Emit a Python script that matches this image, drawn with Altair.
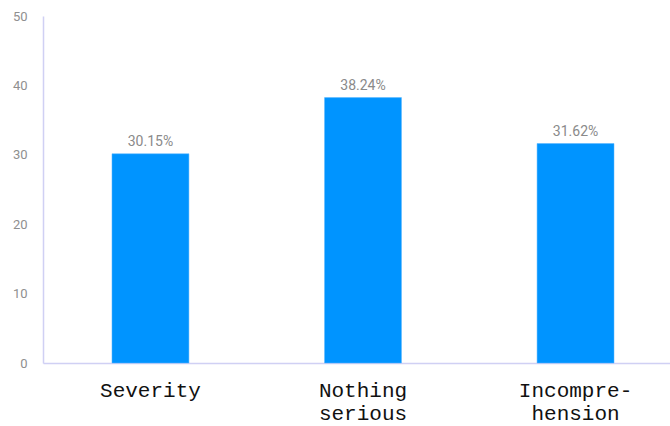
import altair as alt
import pandas as pd

categories = ["Severity", "Nothing serious", "Incomprehension"]
values = [30.15, 38.24, 31.62]
value_labels = ["30.15%", "38.24%", "31.62%"]

df = pd.DataFrame({"cat": categories, "value": values, "label": value_labels})

# multi-line tick labels, left-aligned within each block (monospace, padded with no-break spaces)
label_expr = ("datum.value == 'Severity' ? ['Severity'] : "
              "datum.value == 'Nothing serious' ? ['Nothing', 'serious'] : "
              "['Incompre-', 'hension\u00a0\u00a0']")

x = alt.X("cat:N", sort=categories, title=None,
          scale=alt.Scale(paddingInner=0.638, paddingOuter=0.294, align=0.552),
          axis=alt.Axis(labelAngle=0, labelExpr=label_expr, labelFont="Liberation Mono",
                        labelFontSize=21, labelColor="#111111", ticks=False,
                        domainColor="#d0d0f4", domainWidth=1.5, labelPadding=16,
                        labelLineHeight=23, labelBaseline="top"))
y = alt.Y("value:Q", title=None,
          scale=alt.Scale(domain=[0, 50]),
          axis=alt.Axis(values=[0, 10, 20, 30, 40, 50], grid=False, ticks=False,
                        domainColor="#d0d0f4", domainWidth=1.5, labelColor="#8f8f8f",
                        labelFontSize=13, labelPadding=16, labelFont="Roboto"))

bars = alt.Chart(df).mark_bar(color="#0094ff", stroke="#59b6ff", strokeWidth=0.5).encode(x=x, y=y)
text = alt.Chart(df).mark_text(dy=-12, color="#8a8a8a", fontSize=14, font="Roboto").encode(
    x=alt.X("cat:N", sort=categories), y="value:Q", text="label:N")

chart = (bars + text).properties(
    width=627, height=347,
    autosize=alt.AutoSizeParams(type="none"),
    padding={"left": 43, "top": 16, "right": 0, "bottom": 63},
).configure(background="white").configure_view(stroke=None)

chart.save("out.html", embed_options={"renderer": "svg", "actions": False})
